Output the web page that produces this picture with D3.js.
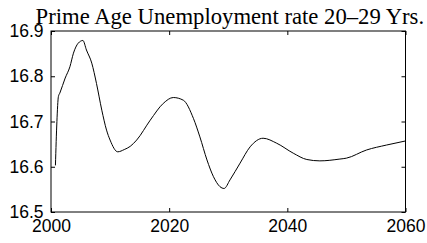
<!DOCTYPE html>
<html>
<head>
<meta charset="utf-8">
<script src="https://cdn.jsdelivr.net/npm/d3@7"></script>
<style>
  body { margin: 0; background: #fff; }
  svg { display: block; }
</style>
</head>
<body>
<div id="chart"></div>
<script>
(function () {

    // values
    const years = [2000.75, 2001.0, 2001.25, 2001.5, 2002.4, 2003.2, 2003.8, 2004.6, 2005.4, 2006.0,
        2006.9, 2007.7, 2008.6, 2009.4, 2010.0, 2011.3, 2012.4, 2013.4, 2014.5, 2016.8,
        2019.0, 2020.7, 2022.4, 2024.1, 2025.2, 2026.4, 2027.5, 2028.6, 2029.3, 2030.3,
        2032.0, 2033.7, 2035.9, 2038.2, 2041.0, 2043.3, 2045.5, 2048.9, 2050.0, 2053.4,
        2056.8, 2060.0]
    const rates = [16.603, 16.70, 16.755, 16.763, 16.796, 16.821, 16.851, 16.873, 16.879, 16.858,
        16.829, 16.784, 16.725, 16.681, 16.659, 16.633, 16.638, 16.645, 16.659, 16.703,
        16.740, 16.753, 16.747, 16.707, 16.666, 16.615, 16.578, 16.556, 16.552, 16.571,
        16.608, 16.644, 16.663, 16.652, 16.630, 16.616, 16.613, 16.617, 16.619, 16.637,
        16.648, 16.657]
    const xTicks = [2000, 2020, 2040, 2060]
    const yTicks = [16.5, 16.6, 16.7, 16.8, 16.9]
    const title = "Prime Age Unemployment rate 20\u201329 Yrs."

    const width = 427
    const height = 243
    const margin = { top: 31, right: 21.5, bottom: 31, left: 51 }

    const svg = d3.select("#chart")
        .append("svg")
        .attr("width", width)
        .attr("height", height)

    const xScale = d3.scaleLinear()
        .domain([2000, 2060])
        .range([margin.left, width - margin.right])

    const yScale = d3.scaleLinear()
        .domain([16.5, 16.9])
        .range([height - margin.bottom, margin.top])

    const tickFont = "'Liberation Sans', Arial, sans-serif"
    const tickSize = 17.5

    // bottom axis, ticks pointing inward
    const xAxis = svg.append("g")
        .attr("transform", `translate(0,${height - margin.bottom})`)
        .call(d3.axisBottom(xScale).tickValues(xTicks).tickFormat(d3.format("d"))
            .tickSizeInner(-4).tickSizeOuter(0).tickPadding(8))
    xAxis.selectAll("text").attr("font-family", tickFont).attr("font-size", tickSize).attr("fill", "#000")

    const yAxis = svg.append("g")
        .attr("transform", `translate(${margin.left},0)`)
        .call(d3.axisLeft(yScale).tickValues(yTicks).tickFormat(d3.format(".1f"))
            .tickSizeInner(-4).tickSizeOuter(0).tickPadding(7.5))
    yAxis.selectAll("text").attr("font-family", tickFont).attr("font-size", tickSize).attr("fill", "#000")

    // mirrored ticks on top and right
    svg.append("g")
        .attr("transform", `translate(0,${margin.top})`)
        .call(d3.axisTop(xScale).tickValues(xTicks).tickFormat("").tickSizeInner(-4).tickSizeOuter(0))
    svg.append("g")
        .attr("transform", `translate(${width - margin.right},0)`)
        .call(d3.axisRight(yScale).tickValues(yTicks).tickFormat("").tickSizeInner(-4).tickSizeOuter(0))

    svg.selectAll(".domain").remove()
    svg.selectAll(".tick line").attr("stroke", "#000")

    svg.append("rect")
        .attr("x", margin.left)
        .attr("y", margin.top)
        .attr("width", width - margin.left - margin.right)
        .attr("height", height - margin.top - margin.bottom)
        .attr("fill", "none")
        .attr("stroke", "#000")
        .attr("stroke-width", 1)

    const points = years.map((y, i) => [y, rates[i]])

    svg.append("path")
        .datum(points)
        .attr("fill", "none")
        .attr("stroke", "#000")
        .attr("stroke-width", 1)
        .attr("d", d3.line()
            .x(d => xScale(d[0]))
            .y(d => yScale(d[1]))
            .curve(d3.curveMonotoneX))

    svg.append("text")
        .attr("x", 229.8)
        .attr("y", 24)
        .attr("text-anchor", "middle")
        .attr("font-family", "'Liberation Serif', 'Times New Roman', serif")
        .attr("font-size", 22.7)
        .attr("fill", "#000")
        .text(title)
})()
</script>
</body>
</html>
